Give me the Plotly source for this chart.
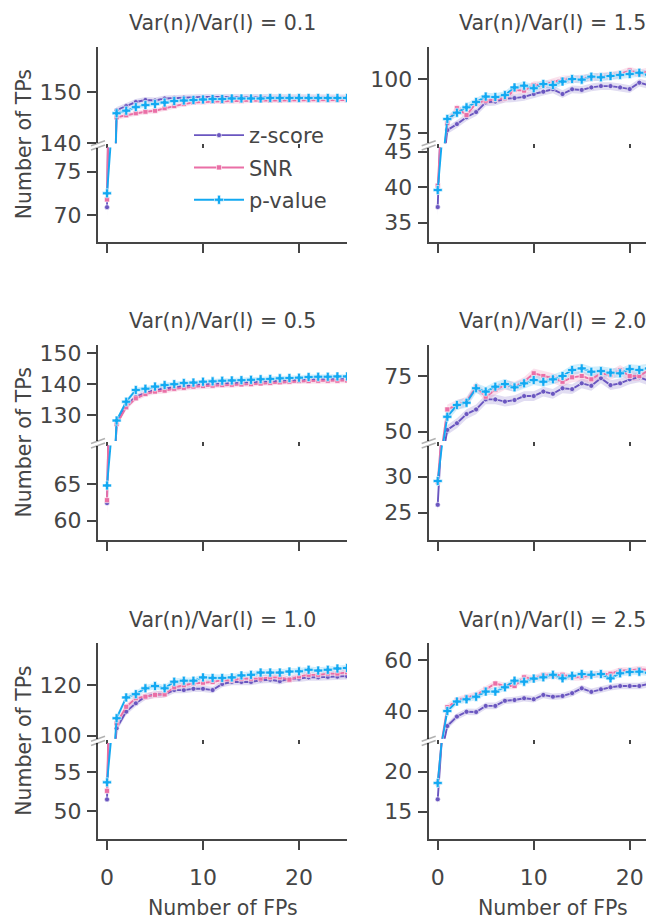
import plotly.graph_objects as go

# ---------------- data ----------------
fp_left = list(range(26))
fp_right = list(range(24))

series_names = ["z-score", "SNR", "p-value"]
panel_titles = ["Var(n)/Var(l) = 0.1", "Var(n)/Var(l) = 1.5",
                "Var(n)/Var(l) = 0.5", "Var(n)/Var(l) = 2.0",
                "Var(n)/Var(l) = 1.0", "Var(n)/Var(l) = 2.5"]

# Var ratio 0.1
z_01 = [70.9, 146.5, 147.3, 148.1, 148.5, 148.4, 148.8, 148.9, 149.0, 149.0, 149.1, 149.1, 149.1,
        149.1, 149.1, 149.1, 149.1, 149.1, 149.1, 149.1, 149.1, 149.0, 149.0, 149.0, 149.0, 149.0]
snr_01 = [71.8, 145.1, 145.5, 145.9, 146.2, 146.4, 146.9, 147.3, 147.7, 148.0, 148.1, 148.2, 148.2,
          148.3, 148.3, 148.4, 148.4, 148.4, 148.4, 148.5, 148.5, 148.5, 148.5, 148.5, 148.5, 148.5]
p_01 = [72.5, 145.9, 146.4, 147.1, 147.5, 147.7, 148.0, 148.3, 148.4, 148.5, 148.6, 148.7, 148.7,
        148.8, 148.8, 148.8, 148.8, 148.9, 148.9, 148.9, 148.9, 148.9, 148.9, 148.9, 148.9, 148.9]

# Var ratio 1.5
z_15 = [37.2, 76.2, 79.0, 82.2, 84.6, 89.1, 89.5, 90.8, 91.1, 91.7, 93.0, 94.1, 95.2, 93.0, 95.2,
        94.9, 96.1, 96.7, 96.7, 96.1, 95.3, 98.3, 97.1, 97.0]
snr_15 = [40.2, 79.4, 86.4, 83.2, 88.7, 89.9, 90.5, 91.0, 94.9, 94.6, 97.2, 97.2, 98.6, 99.8, 99.8,
          100.2, 100.8, 101.1, 101.6, 102.3, 103.9, 102.6, 103.6, 103.5]
p_15 = [39.6, 81.4, 84.3, 86.8, 89.3, 91.8, 91.6, 92.5, 96.1, 96.9, 95.7, 97.7, 97.2, 98.8, 100.0,
        99.7, 101.1, 100.8, 101.4, 101.9, 102.3, 102.9, 102.0, 102.2]

# Var ratio 0.5
z_05 = [62.4, 127.0, 133.2, 135.9, 137.2, 138.1, 138.6, 139.0, 139.4, 139.7, 140.0, 140.1, 140.2,
        140.3, 140.4, 140.5, 140.7, 140.9, 141.1, 141.3, 141.4, 141.5, 141.6, 141.7, 141.8, 141.8]
snr_05 = [62.8, 127.1, 132.5, 135.4, 136.8, 137.6, 137.9, 138.5, 138.8, 139.2, 139.4, 139.5, 139.7,
          139.8, 139.9, 140.0, 140.2, 140.4, 140.6, 140.8, 141.0, 141.0, 141.1, 141.1, 141.1, 141.2]
p_05 = [64.8, 128.2, 134.3, 138.1, 138.5, 139.2, 139.7, 140.0, 140.4, 140.5, 140.8, 140.9, 141.1,
        141.2, 141.3, 141.4, 141.6, 141.7, 141.9, 142.0, 142.1, 142.3, 142.4, 142.4, 142.5, 142.5]

# Var ratio 2.0
z_20 = [26.1, 50.8, 53.8, 57.9, 60.0, 64.5, 64.5, 63.5, 64.2, 66.0, 66.0, 68.0, 67.0, 69.5, 69.1,
        71.7, 70.6, 74.0, 70.9, 71.7, 73.5, 74.4, 72.9, 73.0]
snr_20 = [29.3, 60.0, 62.0, 63.5, 70.2, 65.7, 68.7, 71.0, 70.2, 72.4, 76.2, 75.0, 74.0, 72.4, 74.4,
          75.0, 73.5, 76.2, 75.4, 77.7, 75.0, 75.0, 77.7, 77.5]
p_20 = [29.4, 56.7, 62.0, 63.0, 69.5, 68.0, 70.2, 71.4, 69.9, 71.7, 73.2, 72.4, 73.5, 75.0, 77.7,
        78.4, 76.9, 77.2, 76.5, 76.2, 78.1, 77.7, 78.4, 78.2]

# Var ratio 1.0
z_10 = [51.5, 102.9, 109.5, 112.8, 115.4, 116.3, 116.3, 118.0, 118.0, 118.5, 118.5, 118.0, 120.4,
        121.2, 121.2, 121.2, 121.9, 122.1, 121.5, 122.5, 122.5, 123.0, 123.0, 123.2, 123.3, 123.5]
snr_10 = [52.6, 104.9, 111.4, 114.8, 115.4, 116.1, 116.3, 119.1, 119.9, 120.6, 120.9, 121.2, 121.9,
          121.9, 122.5, 122.5, 122.5, 123.0, 123.0, 122.1, 123.4, 124.0, 124.0, 124.5, 124.5, 125.0]
p_10 = [53.7, 106.9, 115.1, 116.4, 118.7, 119.6, 118.7, 121.3, 121.7, 121.7, 123.0, 122.8, 122.8,
        123.0, 123.8, 124.0, 124.9, 124.9, 124.9, 125.3, 125.4, 126.0, 125.7, 126.0, 126.5, 126.7]

# Var ratio 2.5
z_25 = [16.55, 34.1, 37.8, 39.7, 39.6, 42.0, 42.0, 44.0, 44.3, 45.0, 44.6, 46.3, 45.6, 45.9, 47.0,
        48.9, 47.5, 48.5, 49.3, 49.8, 49.8, 49.8, 50.6, 50.7]
snr_25 = [18.6, 41.5, 44.2, 45.4, 46.3, 48.5, 50.8, 49.8, 49.8, 53.2, 52.7, 54.1, 53.8, 54.2, 53.2,
          53.2, 54.2, 54.5, 54.6, 55.9, 55.9, 56.4, 56.1, 56.3]
p_25 = [18.6, 40.0, 43.7, 44.6, 45.6, 47.6, 47.6, 49.3, 51.9, 51.5, 52.7, 53.2, 54.2, 52.8, 53.8,
        54.5, 54.2, 54.5, 52.8, 54.8, 55.3, 55.4, 55.0, 55.2]

# approximate 95% CI half-widths: (at 0 FPs, beyond) per series z, SNR, p
ci_01 = [(1.3, 0.6), (1.4, 0.5), (0.8, 0.4)]
ci_15 = [(1.3, 1.8), (1.0, 1.8), (0.8, 1.8)]
ci_05 = [(1.5, 0.9), (1.8, 0.9), (0.8, 0.8)]
ci_20 = [(1.0, 2.2), (1.0, 2.2), (0.8, 2.2)]
ci_10 = [(1.2, 1.3), (1.3, 1.3), (0.8, 1.3)]
ci_25 = [(0.9, 1.3), (0.8, 1.3), (0.7, 1.3)]

panel_data = [
    (fp_left, [z_01, snr_01, p_01], ci_01),
    (fp_right, [z_15, snr_15, p_15], ci_15),
    (fp_left, [z_05, snr_05, p_05], ci_05),
    (fp_right, [z_20, snr_20, p_20], ci_20),
    (fp_left, [z_10, snr_10, p_10], ci_10),
    (fp_right, [z_25, snr_25, p_25], ci_25),
]

# ---------------- layout geometry (reference pixels) ----------------
OFF = 8                      # default body margin of the html page
W, H = 654 - OFF, 922 - OFF  # figure fills the window from the body margin on
colors = ["#6a56c0", "#ea6fa6", "#12a9f2"]
fills = ["rgba(106,86,192,0.2)", "rgba(234,111,166,0.2)", "rgba(18,169,242,0.2)"]
symbols = ["circle", "square", "cross"]
msizes = [5, 5, 7.5]
groups = ["z", "snr", "p"]
ink = "#454545"
FONT = "DejaVu Sans"
TICKFONT = dict(family=FONT, size=22, color=ink)

col_px = [(98, 347, [-0.94, 25.0]), (428.7, 654, [-0.94, 22.53])]
row_px = [((47, 143.3), (147.5, 241.7)),
          ((345, 441), (445.5, 540)),
          ((642.7, 738.7), (743, 839))]

# (top range, top ticks, bottom range, bottom ticks)
yspec = [
    ([140.0, 158.9], [140, 150], [66.92, 77.79], [70, 75]),
    ([70.06, 114.9], [75, 100], [32.32, 45.59], [35, 40, 45]),
    ([121.57, 152.69], [130, 140, 150], [57.37, 70.25], [60, 65]),
    ([45.83, 88.91], [50, 75], [21.21, 34.33], [25, 30]),
    ([98.82, 136.69], [100, 120], [46.38, 58.79], [50, 55]),
    ([29.14, 66.78], [40, 60], [11.59, 23.59], [15, 20]),
]


def px_x(px):
    return (px - OFF) / W


def px_y(py):
    return 1 - (py - OFF) / H


fig = go.Figure()
layout = {}
shapes = []
annotations = []

for i in range(6):
    r, c = divmod(i, 2)
    x0p, x1p, xr = col_px[c]
    (t0, t1), (b0, b1) = row_px[r]
    xs, vals, cis = panel_data[i]
    trange, tticks, brange, bticks = yspec[i]
    for part in range(2):
        n = 2 * i + part + 1
        xa = "x" if n == 1 else f"x{n}"
        ya = "y" if n == 1 else f"y{n}"
        xkey = "xaxis" if n == 1 else f"xaxis{n}"
        ykey = "yaxis" if n == 1 else f"yaxis{n}"
        is_top = part == 0
        y0p, y1p = (t0, t1) if is_top else (b0, b1)
        layout[xkey] = dict(
            domain=[px_x(x0p), min(1.0, px_x(x1p))], range=xr, anchor=ya,
            tickvals=[0, 10, 20], ticks="outside",
            ticklen=4 if is_top else 9, tickwidth=1.8, tickcolor=ink,
            showline=not is_top, linecolor=ink, linewidth=2,
            showticklabels=(not is_top and r == 2),
            showgrid=False, zeroline=False, automargin=False,
            tickfont=TICKFONT, ticklabelstandoff=9,
        )
        layout[ykey] = dict(
            domain=[px_y(y1p), px_y(y0p)], range=trange if is_top else brange,
            anchor=xa, tickvals=tticks if is_top else bticks,
            ticks="outside", ticklen=9, tickwidth=1.8, tickcolor=ink,
            showline=True, linecolor=ink, linewidth=2,
            showgrid=False, zeroline=False, automargin=False,
            tickfont=TICKFONT, ticklabelstandoff=1,
        )
        for s in range(3):
            v = vals[s]
            c0, c1 = cis[s]
            hw = [c0] + [c1] * (len(v) - 1)
            up = [a + b for a, b in zip(v, hw)]
            lo = [a - b for a, b in zip(v, hw)]
            fig.add_trace(go.Scatter(
                x=list(xs) + list(xs)[::-1], y=up + lo[::-1],
                fill="toself", fillcolor=fills[s], line=dict(width=0),
                mode="lines", hoverinfo="skip", showlegend=False,
                legendgroup=groups[s], xaxis=xa, yaxis=ya))
        for s in range(3):
            fig.add_trace(go.Scatter(
                x=xs, y=vals[s], mode="lines+markers", name=series_names[s],
                line=dict(color=colors[s], width=1.9),
                marker=dict(symbol=symbols[s], size=msizes[s], color=colors[s],
                            line=dict(color="white", width=0.6)),
                showlegend=(i == 0 and part == 0), legendgroup=groups[s],
                xaxis=xa, yaxis=ya))
    # break marks
    for yb in (t1, b0):
        shapes.append(dict(type="line", xref="paper", yref="paper",
                           x0=px_x(x0p - 7), y0=px_y(yb + 2.5),
                           x1=px_x(x0p + 7), y1=px_y(yb - 2.5),
                           line=dict(color="black", width=1.5)))
    # panel title
    annotations.append(dict(text=panel_titles[i], xref="paper", yref="paper",
                            x=px_x(222.5 if c == 0 else 552.5),
                            y=px_y([23, 321, 620][r]),
                            showarrow=False, xanchor="center", yanchor="middle",
                            font=dict(family=FONT, size=20.5, color=ink)))
    if c == 0:
        annotations.append(dict(text="Number of TPs", xref="paper", yref="paper",
                                x=px_x(24), y=px_y((t0 + b1) / 2), textangle=-90,
                                showarrow=False, xanchor="center", yanchor="middle",
                                font=dict(family=FONT, size=20.5, color=ink)))

for xc in (222.5, 552.5):
    annotations.append(dict(text="Number of FPs", xref="paper", yref="paper",
                            x=px_x(xc), y=px_y(907.5), showarrow=False,
                            xanchor="center", yanchor="middle",
                            font=dict(family=FONT, size=20.5, color=ink)))

fig.update_layout(
    template="simple_white",
    width=W, height=H, margin=dict(l=0, r=0, t=0, b=0, autoexpand=False),
    paper_bgcolor="white", plot_bgcolor="white",
    shapes=shapes, annotations=annotations,
    legend=dict(x=px_x(189), y=px_y(115), xanchor="left", yanchor="top",
                bgcolor="rgba(0,0,0,0)", font=dict(family=FONT, size=21, color=ink),
                itemwidth=50, tracegroupgap=2),
    **layout,
)

fig.write_html("out.html")
